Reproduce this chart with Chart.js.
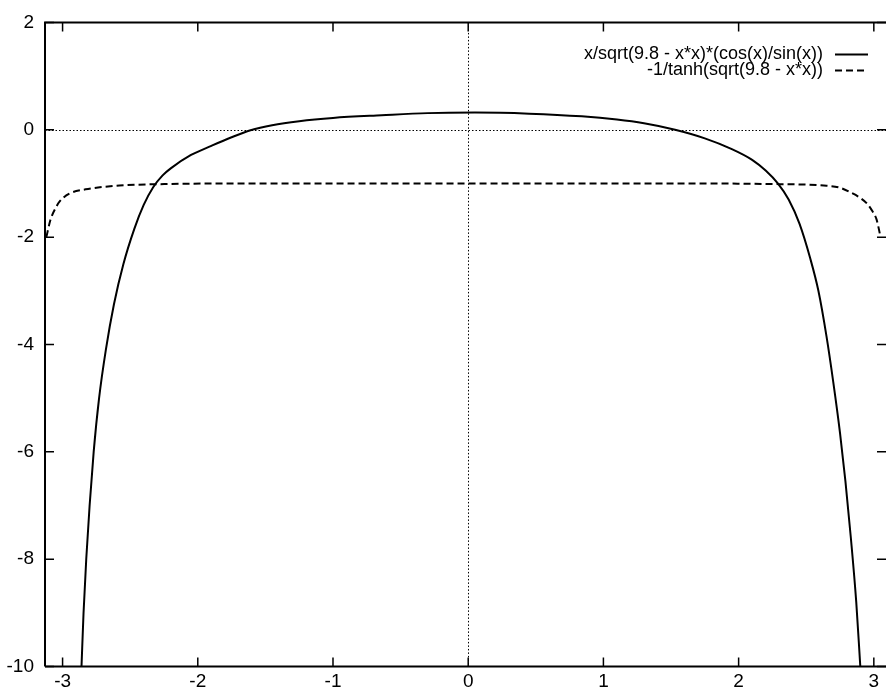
<!DOCTYPE html>
<html>
<head>
<meta charset="utf-8">
<script src="https://cdn.jsdelivr.net/npm/chart.js@4.4.1/dist/chart.umd.min.js"></script>
<style>
  html, body { margin: 0; padding: 0; background: #fff; }
  #wrap { width: 886px; height: 689px; }
</style>
</head>
<body>
<div id="wrap"><canvas id="plot" width="886" height="689"></canvas></div>
<script>
// series names, as printed in the key
const seriesNames = ['x/sqrt(9.8 - x*x)*(cos(x)/sin(x))', '-1/tanh(sqrt(9.8 - x*x))'];

// values
const solidX = [-2.86, -2.845, -2.825, -2.80, -2.77, -2.73, -2.68, -2.62, -2.55, -2.47, -2.40, -2.33,
    -2.26, -2.20, -2.05, -1.90, -1.75, -1.61, -1.45, -1.25, -1.00, -0.64, -0.30, 0.05, 0.45, 0.84, 1.10,
    1.30, 1.53, 1.75, 1.95, 2.10, 2.20, 2.29, 2.37, 2.45, 2.53, 2.59, 2.65, 2.70, 2.75, 2.79, 2.83,
    2.87, 2.90];
const solidY = [-10, -9, -8, -7, -6, -5, -4.1, -3.25, -2.5, -1.85, -1.4, -1.07,
    -0.85, -0.72, -0.47, -0.30, -0.14, -0.01, 0.085, 0.16, 0.22, 0.27, 0.31, 0.32, 0.30, 0.25, 0.19,
    0.12, 0.0, -0.16, -0.36, -0.56, -0.76, -1.0, -1.3, -1.75, -2.4, -3.0, -3.85, -4.7, -5.65, -6.55, -7.6,
    -8.8, -10];

const dashedX = [-3.12, -3.09, -3.05, -3.02, -2.95, -2.83, -2.58, -2.20, -1.50, 0, 1.50, 2.20,
    2.63, 2.75, 2.83, 2.90, 2.955, 2.99, 3.02, 3.05];
const dashedY = [-2.0, -1.68, -1.45, -1.33, -1.19, -1.11, -1.04, -1.01, -1.0, -1.0, -1.0, -1.01,
    -1.04, -1.08, -1.17, -1.27, -1.39, -1.52, -1.67, -2.0];

const xTickValues = [-3, -2, -1, 0, 1, 2, 3];
const yTickValues = [-10, -8, -6, -4, -2, 0, 2];
const xRange = [-3.13, 3.09];
const yRange = [-10, 2];

const toPoints = (xs, ys) => xs.map((x, i) => ({ x: x, y: ys[i] }));

const FONT = '"Liberation Sans", Arial, Helvetica, sans-serif';
const TICK_LEN = 9;

// gnuplot look: border, inward ticks, dotted zero axes, key at top right
const gnuplotFrame = {
    id: 'gnuplotFrame',
    beforeDatasetsDraw(chart) {
        const { ctx, chartArea: a, scales: { x, y } } = chart;
        ctx.save();
        ctx.strokeStyle = '#000';
        ctx.lineWidth = 1;
        ctx.setLineDash([1.5, 2]);
        const x0 = Math.round(x.getPixelForValue(0)) + 0.5;
        const y0 = Math.round(y.getPixelForValue(0)) + 0.5;
        ctx.beginPath();
        ctx.moveTo(a.left, y0); ctx.lineTo(a.right, y0);
        ctx.moveTo(x0, a.top); ctx.lineTo(x0, a.bottom);
        ctx.stroke();
        ctx.restore();
    },
    afterDraw(chart) {
        const { ctx, chartArea: a, scales: { x, y } } = chart;
        ctx.save();
        ctx.strokeStyle = '#000';
        ctx.setLineDash([]);
        ctx.lineWidth = 2;
        ctx.beginPath();
        ctx.moveTo(a.left, a.bottom);
        ctx.lineTo(a.left, a.top);
        ctx.lineTo(a.right, a.top);
        ctx.moveTo(a.left, a.bottom);
        ctx.lineTo(a.right, a.bottom);
        ctx.stroke();

        ctx.lineWidth = 1.5;
        ctx.beginPath();
        xTickValues.forEach(v => {
            const px = x.getPixelForValue(v);
            ctx.moveTo(px, a.bottom); ctx.lineTo(px, a.bottom - TICK_LEN);
            ctx.moveTo(px, a.top); ctx.lineTo(px, a.top + TICK_LEN);
        });
        yTickValues.forEach(v => {
            const py = y.getPixelForValue(v);
            ctx.moveTo(a.left, py); ctx.lineTo(a.left + TICK_LEN, py);
            ctx.moveTo(a.right, py); ctx.lineTo(a.right - TICK_LEN, py);
        });
        ctx.stroke();

        // key
        ctx.font = '18px ' + FONT;
        ctx.fillStyle = '#000';
        ctx.textAlign = 'right';
        ctx.textBaseline = 'middle';
        const textRight = a.right - 63;
        const sampleL = a.right - 51, sampleR = a.right - 18;
        chart.data.datasets.forEach((ds, i) => {
            const ky = a.top + 32 + i * 16;
            ctx.fillText(seriesNames[i], textRight, ky);
            ctx.lineWidth = 2;
            ctx.setLineDash(ds.borderDash || []);
            ctx.beginPath();
            ctx.moveTo(sampleL, ky);
            ctx.lineTo(sampleR, ky);
            ctx.stroke();
        });
        ctx.restore();
    }
};

new Chart(document.getElementById('plot').getContext('2d'), {
    type: 'line',
    data: {
        datasets: [
            {
                label: seriesNames[0],
                data: toPoints(solidX, solidY),
                borderColor: '#000',
                borderWidth: 2,
                pointRadius: 0,
                cubicInterpolationMode: 'monotone',
                fill: false
            },
            {
                label: seriesNames[1],
                data: toPoints(dashedX, dashedY),
                borderColor: '#000',
                borderWidth: 2,
                borderDash: [7, 4],
                pointRadius: 0,
                cubicInterpolationMode: 'monotone',
                fill: false
            }
        ]
    },
    options: {
        responsive: false,
        animation: false,
        layout: { padding: { top: 16, right: 0, left: 0, bottom: 0 } },
        plugins: {
            legend: { display: false },
            tooltip: { enabled: false },
            title: { display: false }
        },
        scales: {
            x: {
                type: 'linear',
                min: xRange[0],
                max: xRange[1],
                afterBuildTicks: s => { s.ticks = xTickValues.map(v => ({ value: v })); },
                afterFit: s => { s.height = 22; },
                grid: { display: false, drawTicks: false },
                border: { display: false },
                ticks: {
                    color: '#000',
                    padding: 4,
                    maxRotation: 0,
                    autoSkip: false,
                    font: { family: FONT, size: 19 }
                }
            },
            y: {
                type: 'linear',
                min: yRange[0],
                max: yRange[1],
                afterBuildTicks: s => { s.ticks = yTickValues.map(v => ({ value: v })); },
                afterFit: s => { s.width = 45; },
                grid: { display: false, drawTicks: false },
                border: { display: false },
                ticks: {
                    color: '#000',
                    padding: 11,
                    autoSkip: false,
                    font: { family: FONT, size: 19 }
                }
            }
        }
    },
    plugins: [gnuplotFrame]
});
</script>
</body>
</html>
